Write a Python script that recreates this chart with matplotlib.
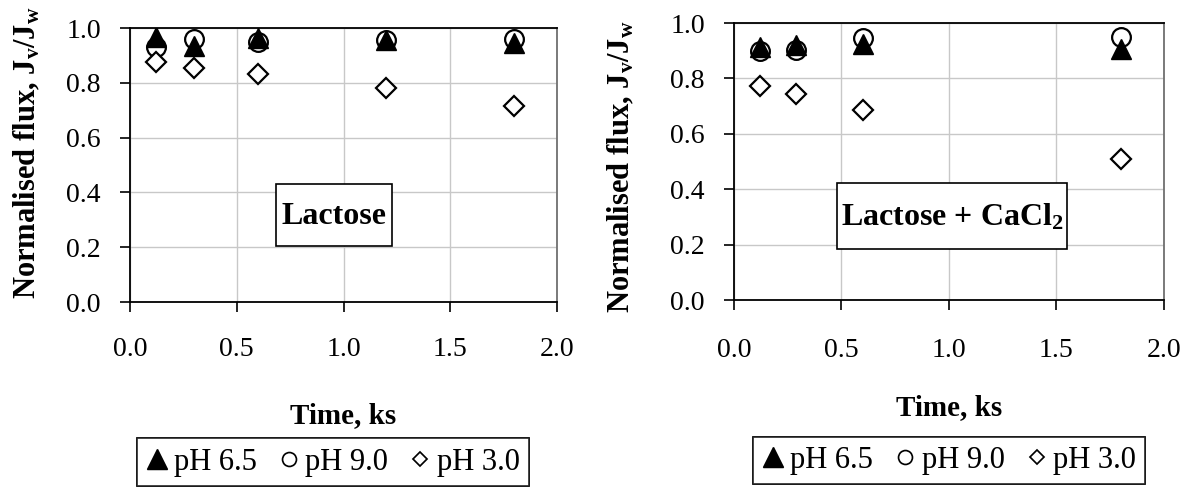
import matplotlib
matplotlib.use('Agg')
import matplotlib.pyplot as plt
from matplotlib.lines import Line2D
from matplotlib.patches import Rectangle

plt.rcParams['font.family'] = 'Liberation Serif'
plt.rcParams['mathtext.fontset'] = 'custom'
plt.rcParams['mathtext.rm'] = 'Liberation Serif'
plt.rcParams['mathtext.bf'] = 'Liberation Serif:bold'
plt.rcParams['mathtext.it'] = 'Liberation Serif:italic'

# Normalised flux data, time in ks
time_lac = [0.12, 0.30, 0.60, 1.20, 1.80]
lac_ph65 = [0.967, 0.935, 0.963, 0.955, 0.945]
lac_ph90 = [0.932, 0.960, 0.949, 0.955, 0.960]
lac_ph30 = [0.877, 0.854, 0.832, 0.780, 0.716]

time_ca = [0.12, 0.29, 0.60, 1.80]
ca_ph65 = [0.913, 0.920, 0.925, 0.907]
ca_ph90 = [0.899, 0.904, 0.945, 0.950]
ca_ph30 = [0.772, 0.742, 0.685, 0.510]

labels = ['pH 6.5', 'pH 9.0', 'pH 3.0']
xticks = [0.0, 0.5, 1.0, 1.5, 2.0]
yticks = [0.0, 0.2, 0.4, 0.6, 0.8, 1.0]

fig = plt.figure(figsize=(11.94, 4.88), dpi=100)
ax1 = fig.add_axes([0.1089, 0.3811, 0.3576, 0.5615])
ax2 = fig.add_axes([0.6147, 0.3852, 0.3601, 0.5676])

ylab = r'Normalised flux, J$_\mathbf{v}$/J$_\mathbf{w}$'


def draw_panel(ax, t, a, b, c, name, box, txt_xy, ylab_xy, xlab_y, xpad):
    ax.plot(t, b, 'o', ms=13.5, mfc='white', mec='black', mew=1.6, zorder=3)
    ax.plot(t, a, '^', ms=15, color='black', zorder=4)
    ax.plot(t, c, 'D', ms=10.5, mfc='white', mec='black', mew=1.6, zorder=3)
    ax.set_xlim(0, 2)
    ax.set_ylim(0, 1)
    ax.set_xticks(xticks)
    ax.set_yticks(yticks)
    ax.set_xticklabels(['%.1f' % v for v in xticks])
    ax.set_yticklabels(['%.1f' % v for v in yticks])
    ax.tick_params(labelsize=20, direction='out', length=7, width=1.2)
    ax.tick_params(axis='x', pad=xpad)
    ax.tick_params(axis='y', pad=14)
    ax.grid(True, color='#c8c8c8', lw=1)
    ax.set_axisbelow(True)
    for s in ['left', 'bottom', 'top']:
        ax.spines[s].set_color('black')
        ax.spines[s].set_linewidth(1.3)
    ax.spines['right'].set_color('#707070')
    ax.spines['right'].set_linewidth(1.3)
    ax.set_ylabel(ylab, fontsize=22, fontweight='bold')
    ax.yaxis.set_label_coords(*ylab_xy)
    ax.set_xlabel('Time, ks', fontsize=21, fontweight='bold')
    ax.xaxis.set_label_coords(0.5, xlab_y)
    # label box drawn in data units
    ax.add_patch(Rectangle((box[0], box[1]), box[2] - box[0], box[3] - box[1],
                           fc='white', ec='black', lw=1.2, zorder=5))
    ax.text(txt_xy[0], txt_xy[1], name, fontsize=23, fontweight='bold',
            ha='center', va='center', zorder=6)


draw_panel(ax1, time_lac, lac_ph65, lac_ph90, lac_ph30, 'Lactose',
           (0.684, 0.203, 1.227, 0.43), (0.957, 0.312),
           (-0.206, 0.545), -0.365, 18)
draw_panel(ax2, time_ca, ca_ph65, ca_ph90, ca_ph30,
           r'Lactose + CaCl$_\mathbf{2}$', (0.48, 0.186, 1.55, 0.423),
           (1.017, 0.298), (-0.227, 0.48), -0.34, 20)

handles = [
    Line2D([], [], ls='none', marker='^', ms=15, color='black'),
    Line2D([], [], ls='none', marker='o', ms=10, mfc='white', mec='black', mew=1.2),
    Line2D([], [], ls='none', marker='D', ms=7.5, mfc='white', mec='black', mew=1.2),
]
for x, y in [(0.279, 0.053), (0.795, 0.056)]:
    leg = fig.legend(handles, labels, loc='center', bbox_to_anchor=(x, y),
                     ncol=3, fontsize=22, frameon=True, fancybox=False,
                     handlelength=0.7, handletextpad=0.2, columnspacing=0.7,
                     borderpad=0.3, borderaxespad=0, edgecolor='black')
    leg.get_frame().set_linewidth(1.2)
    fig.add_artist(leg)

fig.savefig('out.png', dpi=100)
